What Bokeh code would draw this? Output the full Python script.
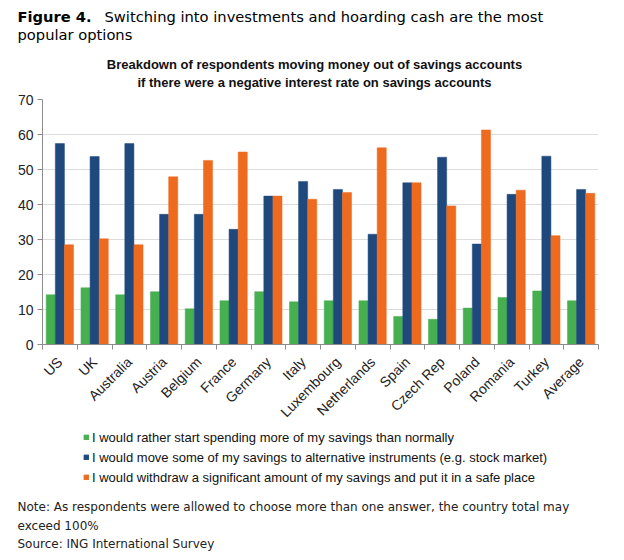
import numpy as np
from bokeh.plotting import figure
from bokeh.layouts import column
from bokeh.models import (Label, Legend, LegendItem, FixedTicker, LinearAxis, Range1d,
                          ColumnDataSource, Grid)
from bokeh.embed import file_html
from bokeh.resources import INLINE

countries = ["US", "UK", "Australia", "Austria", "Belgium", "France", "Germany", "Italy",
             "Luxembourg", "Netherlands", "Spain", "Czech Rep", "Poland", "Romania", "Turkey", "Average"]
spend = [14.2, 16.2, 14.2, 15.1, 10.2, 12.5, 15.1, 12.2, 12.5, 12.5, 8.0, 7.2, 10.4, 13.4, 15.3, 12.5]
invest = [57.4, 53.7, 57.4, 37.2, 37.2, 32.9, 42.4, 46.6, 44.3, 31.5, 46.2, 53.5, 28.7, 42.9, 53.8, 44.3]
withdraw = [28.5, 30.2, 28.5, 47.9, 52.6, 55.0, 42.4, 41.5, 43.4, 56.2, 46.2, 39.6, 61.3, 44.1, 31.1, 43.2]
series_labels = [
    "I would rather start spending more of my savings than normally",
    "I would move some of my savings to alternative instruments (e.g. stock market)",
    "I would withdraw a significant amount of my savings and put it in a safe place",
]
colors = ["#46AF4F", "#1F497D", "#EE6A1F"]
y_ticks = [0, 10, 20, 30, 40, 50, 60, 70]

fig_title_bold = "Figure 4."
fig_title_rest = "Switching into investments and hoarding cash are the most"
fig_title_line2 = "popular options"
chart_title = ["Breakdown of respondents moving money out of savings accounts",
               "if there were a negative interest rate on savings accounts"]
notes = ["Note: As respondents were allowed to choose more than one answer, the country total may",
         "exceed 100%",
         "Source: ING International Survey"]

n = len(countries)
centers = np.arange(n) + 0.5

W = 616
TOP_Y0, TOP_H = 0, 92          # y 0..92
CHART_Y0, CHART_H = 92, 338    # y 92..430
BOT_Y0, BOT_H = 430, 122       # y 430..552

dv = "DejaVu Sans, Verdana, sans-serif"
ari = "Liberation Sans, Arial, sans-serif"


def blank(h, y0):
    f = figure(width=W, height=h, output_backend="svg", toolbar_location=None,
               x_range=Range1d(0, W), y_range=Range1d(y0 + h, y0),
               x_axis_type=None, y_axis_type=None,
               min_border=0, min_border_left=0, min_border_right=0,
               min_border_top=0, min_border_bottom=0)
    f.outline_line_color = None
    f.xgrid.visible = False
    f.ygrid.visible = False
    return f


def add_label(f, x, y, text, font, size, style="normal", align="left", color="#1a1a1a"):
    f.add_layout(Label(x=x, y=y, text=text, text_font=font, text_font_size=size,
                       text_font_style=style, text_align=align, text_baseline="middle",
                       text_color=color))


# ---------- top: titles ----------
top = blank(TOP_H, TOP_Y0)
add_label(top, 17, 16, fig_title_bold, dv, "14.7px", "bold", color="#000000")
add_label(top, 104, 16, fig_title_rest, dv, "14.7px", color="#000000")
add_label(top, 17, 34, fig_title_line2, dv, "14.7px", color="#000000")
add_label(top, 314, 64, chart_title[0], ari, "13px", "bold", "center", "#111111")
add_label(top, 314, 82, chart_title[1], ari, "13px", "bold", "center", "#111111")

# ---------- chart ----------
p = figure(width=W, height=CHART_H, output_backend="svg", toolbar_location=None,
           x_range=Range1d(0, n), y_range=Range1d(0, 70),
           x_axis_type=None, y_axis_type=None,
           min_border_left=42, min_border_top=99 - CHART_Y0, min_border_right=W - 598,
           min_border_bottom=CHART_Y0 + CHART_H - 344)
p.outline_line_color = None
p.xgrid.visible = False
p.ygrid.visible = False

yax = LinearAxis(ticker=FixedTicker(ticks=y_ticks))
yax.axis_line_color = "#8C8C8C"
yax.major_tick_line_color = "#8C8C8C"
yax.major_tick_out = 5
yax.major_tick_in = 0
yax.minor_tick_line_color = None
yax.major_label_standoff = 4
yax.major_label_text_font = ari
yax.major_label_text_font_size = "14px"
yax.major_label_text_color = "#222222"
p.add_layout(yax, "left")

xax = LinearAxis(ticker=FixedTicker(ticks=list(centers), minor_ticks=list(range(n + 1))))
xax.major_label_overrides = {float(c): name for c, name in zip(centers, countries)}
xax.axis_line_color = "#8C8C8C"
xax.major_tick_line_color = None
xax.major_tick_out = 0
xax.minor_tick_line_color = "#8C8C8C"
xax.minor_tick_out = 5
xax.minor_tick_in = 0
xax.major_label_orientation = np.pi / 4
xax.major_label_standoff = 10
xax.major_label_text_font = ari
xax.major_label_text_font_size = "14px"
xax.major_label_text_color = "#222222"
p.add_layout(xax, "below")

g = Grid(dimension=1, ticker=FixedTicker(ticks=y_ticks[1:]))
g.grid_line_color = "#DCDCDC"
g.grid_line_width = 1.2
p.add_layout(g)

bw = 0.262
for k, (vals, col) in enumerate(zip([spend, invest, withdraw], colors)):
    src = ColumnDataSource(dict(x=centers + (k - 1) * bw, top=vals))
    p.vbar(x="x", top="top", bottom=0, width=bw, source=src,
           fill_color=col, line_color=col, line_width=0.5)

# ---------- bottom: legend + notes ----------
bot = blank(BOT_H, BOT_Y0)
# proxy renderers for the legend, mapped through ranges that keep them off-panel
bot.extra_x_ranges = {"proxy": Range1d(1000, 2000)}
bot.extra_y_ranges = {"proxy": Range1d(1000, 2000)}
leg_r = []
for vals, col in zip([spend, invest, withdraw], colors):
    src = ColumnDataSource(dict(x=centers, top=vals))
    leg_r.append(bot.vbar(x="x", top="top", bottom=0, width=0.26, source=src,
                          fill_color=col, line_color=col,
                          x_range_name="proxy", y_range_name="proxy"))
legend = Legend(items=[LegendItem(label=lbl, renderers=[r]) for lbl, r in zip(series_labels, leg_r)],
                location=(83, BOT_Y0 + BOT_H - 487))
legend.glyph_width = 6
legend.glyph_height = 6
legend.label_height = 20
legend.spacing = 0
legend.padding = 0
legend.margin = 0
legend.label_standoff = 3
legend.border_line_color = None
legend.background_fill_alpha = 0
legend.label_text_font = ari
legend.label_text_font_size = "13px"
legend.label_text_color = "#111111"
legend.label_text_baseline = "middle"
bot.add_layout(legend, "center")

add_label(bot, 17, 506, notes[0], dv, "12px", color="#222222")
add_label(bot, 17, 525, notes[1], dv, "12px", color="#222222")
add_label(bot, 17, 543, notes[2], dv, "12px", color="#222222")

layout = column(column(top), p, column(bot), spacing=0)
open("out.html", "w").write(file_html(layout, INLINE))
